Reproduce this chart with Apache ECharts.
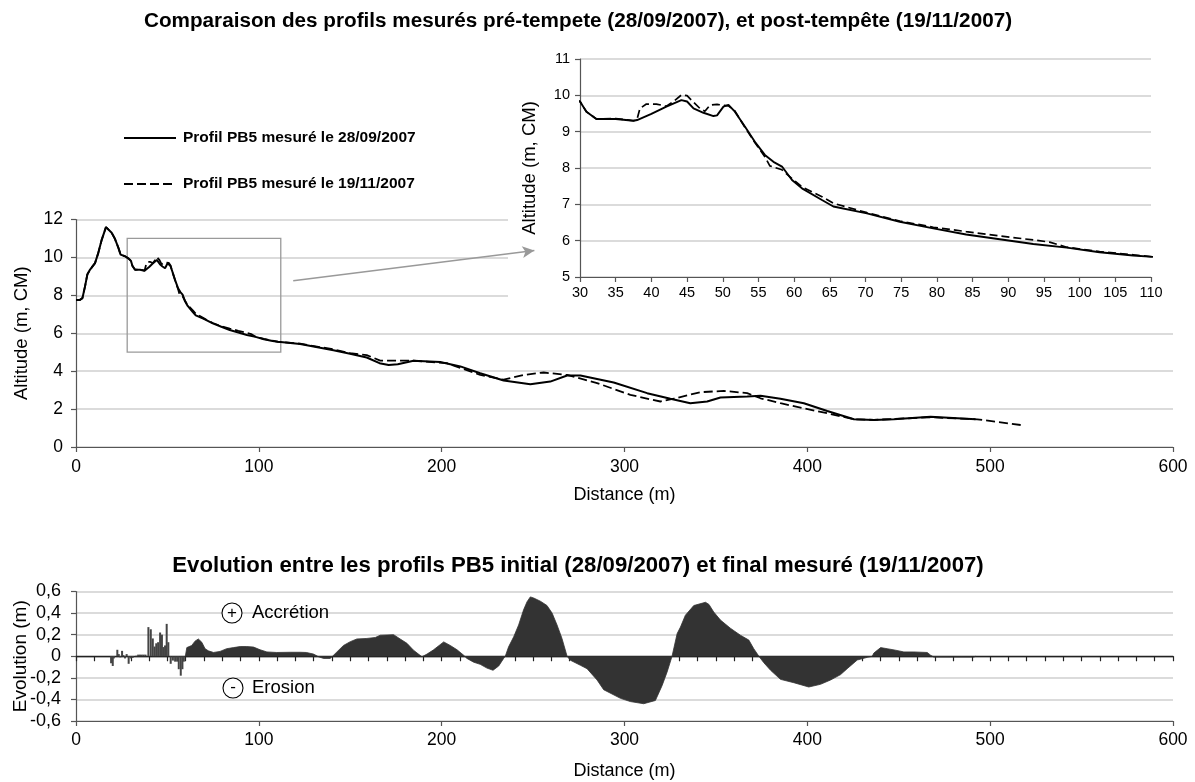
<!DOCTYPE html>
<html><head><meta charset="utf-8">
<script src="https://cdn.jsdelivr.net/npm/echarts@6/dist/echarts.min.js"></script>
<style>html,body{margin:0;padding:0;background:#fff}#c{width:1195px;height:782px}</style>
</head><body><div id="c"></div>
<script>
// ---------- DATA ----------
const title1 = 'Comparaison des profils mesurés pré-tempete (28/09/2007), et post-tempête (19/11/2007)';
const title2 = 'Evolution entre les profils PB5 initial (28/09/2007) et final mesuré (19/11/2007)';
const name1 = 'Profil PB5 mesuré le 28/09/2007';
const name2 = 'Profil PB5 mesuré le 19/11/2007';

// Profile measured 28/09/2007 [distance m, altitude m]
const profil1 = [
[0,7.75],[2,7.75],[3.5,7.85],[5,8.5],[6.2,9.1],[7.7,9.36],[10.4,9.7],[12.2,10.24],[14.1,10.94],[16.4,11.6],[17.2,11.66],
[19.5,11.3],[21.3,10.98],[23.2,10.5],[24.4,10.15],[26.8,10.06],[28.6,9.95],[30,9.83],[30.9,9.55],[32.3,9.35],[35,9.35],
[37.5,9.3],[38,9.32],[40,9.49],[42.1,9.69],[44.2,9.87],[45,9.83],[45.9,9.64],[47.3,9.52],[48.7,9.43],[49.2,9.45],
[50.1,9.69],[50.8,9.74],[51.7,9.55],[53.1,9.14],[54.5,8.72],[55.9,8.36],[57.1,8.17],[58.3,8.04],[59.7,7.67],[61.1,7.44],
[63.9,7.12],[65.5,6.94],[70.2,6.75],[74.8,6.52],[79.5,6.34],[84.1,6.17],[88.8,6.04],[93.5,5.91],[98.2,5.81],[102.8,5.68],
[107.5,5.59],[110.5,5.55],[122.6,5.43],[140.8,5.1],[149.9,4.92],[159,4.72],[166,4.42],[171,4.33],[176,4.36],[184.6,4.55],[199.2,4.48],
[210.2,4.25],[221.1,3.89],[233.9,3.51],[248.5,3.31],[259.4,3.45],[268.6,3.77],[275.9,3.77],[294.1,3.4],[312.4,2.84],
[325.1,2.54],[336,2.31],[345.2,2.4],[352.5,2.61],[367.1,2.66],[374.4,2.7],[385.3,2.54],[398.1,2.31],[410.9,1.9],[425.5,1.46],
[436.4,1.43],[447.3,1.46],[467.4,1.6],[492,1.46]
];
// Profile measured 19/11/2007
const profil2 = [
[0,7.75],[2,7.75],[3.5,7.85],[5,8.5],[6.2,9.1],[7.7,9.36],[10.4,9.7],[12.2,10.24],[14.1,10.94],[16.4,11.6],[17.2,11.66],
[19.5,11.3],[21.3,10.98],[23.2,10.5],[24.4,10.15],[26.8,10.06],[28.6,9.95],[30,9.83],[30.9,9.55],[32.3,9.35],[35,9.36],
[37.5,9.3],[38,9.35],[38.4,9.64],[39.3,9.76],[40.7,9.76],[42.1,9.7],[43.1,9.83],[44.2,10.01],[45,9.99],[45.6,9.87],
[46.8,9.64],[47.5,9.56],[48.2,9.73],[49.2,9.75],[50.8,9.71],[51.7,9.57],[53.1,9.12],[54.5,8.7],[55.9,8.31],[56.6,8.06],
[58.3,7.95],[59.7,7.71],[61.1,7.48],[63.9,7.21],[65.5,7.03],[70.2,6.77],[74.8,6.54],[79.5,6.37],[84.1,6.25],[88.8,6.13],
[93.5,6.02],[95.8,5.96],[98.2,5.82],[102.8,5.7],[107.5,5.61],[110.5,5.55],[122.6,5.45],[140.8,5.15],[149.9,4.95],[159,4.85],
[166.4,4.56],[184.6,4.55],[202.9,4.42],[221.1,3.8],[233.9,3.55],[244.8,3.8],[255.8,3.93],[268.6,3.8],[285,3.37],[303.2,2.75],
[319.6,2.4],[326.9,2.55],[341.5,2.89],[354.3,2.96],[367.1,2.84],[374.4,2.57],[385.3,2.31],[398,2.04],[410.9,1.78],[425.5,1.46],
[436.4,1.43],[467.4,1.57],[493,1.46],[516.7,1.16]
];
// Evolution (m): thin bars in the irregular zone
const evolBars = [
[19.2,-0.065],[20.1,-0.09],[20.7,-0.02],[22.6,0.06],[23.4,0.02],[24.2,-0.01],[25.2,0.05],[25.9,0.01],[26.8,-0.02],[27.7,0.02],
[28.8,-0.07],[29.9,-0.02],[31,-0.015],[33,0.005],[34,0.015],[35,0.015],[36,0.015],[37,0.015],[38,0.015],[39.6,0.27],
[40.9,0.25],[42,0.165],[43,0.09],[43.9,0.12],[44.9,0.13],[46,0.22],[47,0.2],[47.8,0.085],[48.7,0.1],[49.6,0.3],[50.5,0.13],
[51.8,-0.07],[53,-0.04],[54.2,-0.05],[55.3,-0.05],[56.2,-0.12],[57.3,-0.18],[58.2,-0.12],[59,-0.05]
];
// Evolution (m): continuous zone
const evolArea = [
[59.8,0],[60.6,0.08],[63.3,0.1],[65.1,0.14],[66.9,0.16],[67.8,0.165],[68.8,0.13],[70.6,0.07],[72.4,0.05],[75.2,0.035],
[78.8,0.045],[82.4,0.07],[86.1,0.08],[89.8,0.09],[93.4,0.09],[97.1,0.085],[100.7,0.06],[104.4,0.04],[109.8,0.035],[117.1,0.037],
[122.6,0.037],[126,0.035],[129.9,0.02],[132.7,-0.005],[135.4,-0.02],[139,-0.02],[140.3,0],[142.7,0.04],[146.3,0.1],[150,0.135],
[153.6,0.16],[159.1,0.165],[163.7,0.174],[166.4,0.195],[173.7,0.2],[177.3,0.16],[181,0.12],[184.6,0.056],[187.3,0.02],[189.2,-0.005],
[192,0.02],[195.6,0.06],[201.1,0.133],[204.7,0.1],[208.4,0.06],[212,0.01],[213.8,-0.02],[217.5,-0.055],[221.1,-0.075],[224.8,-0.11],
[228.1,-0.13],[231.2,-0.09],[233.9,-0.02],[234.8,0],[236.6,0.087],[239.4,0.18],[242.1,0.29],[244.8,0.43],[246.7,0.505],[248.5,0.55],
[250.3,0.54],[254,0.51],[257.6,0.47],[260.4,0.4],[263.1,0.29],[265.8,0.165],[268.6,0],[270.4,-0.037],[275.9,-0.084],[279.5,-0.115],
[285,-0.22],[288.6,-0.31],[297.8,-0.39],[303.2,-0.42],[310.5,-0.44],[316.9,-0.41],[320.6,-0.27],[323.3,-0.146],[326,0],[328.8,0.21],
[330.6,0.27],[333.3,0.38],[337.9,0.47],[344.3,0.5],[346.2,0.48],[348.8,0.41],[352.5,0.335],[357.9,0.26],[363.4,0.195],[368,0.15],
[370.7,0.07],[373.5,0],[376.2,-0.06],[379.9,-0.13],[385.3,-0.214],[392.6,-0.245],[400.8,-0.285],[407.2,-0.26],[412.7,-0.22],[418.2,-0.17],
[421.8,-0.115],[427.3,-0.035],[432.8,-0.01],[435.5,0],[436.4,0.03],[440.1,0.08],[443.7,0.07],[448.3,0.056],[452.8,0.04],[458.3,0.04],
[465.6,0.035],[467.4,0.01],[469.2,-0.008],[491.1,-0.008],[492,0]
];
// Zoom frame (x0, x1, y0, y1) and arrow (data coords of main chart)
const zoomBox = [28, 112, 5, 11];
const arrowCoords = [[118.8, 8.77], [250.7, 10.36]];

// ---------- CHART ----------
const FF = "'Liberation Sans', Arial, sans-serif";
const chart = echarts.init(document.getElementById('c'), null, {renderer: 'canvas'});
const axisLineStyle = {color: '#555', width: 1.2};
const gridLineStyle = {color: '#cfcfcf', width: 1.5};
const lbl = (size) => ({color: '#000', fontSize: size, fontFamily: FF});
const fmtComma = v => Math.abs(v) < 1e-9 ? '0' : v.toFixed(1).replace('.', ',');

const option = {
  backgroundColor: '#fff',
  animation: false,
  textStyle: {fontFamily: FF},
  title: [
    {text: title1, left: 573, top: 6, textAlign: 'center', textStyle: {fontSize: 20.7, fontWeight: 'bold', color: '#000', fontFamily: FF}},
    {text: title2, left: 573, top: 550, textAlign: 'center', textStyle: {fontSize: 22.2, fontWeight: 'bold', color: '#000', fontFamily: FF}}
  ],
  legend: {
    orient: 'vertical', left: 118, top: 125, itemWidth: 52, itemHeight: 14, itemGap: 30,
    itemStyle: {color: 'rgba(0,0,0,0)', borderColor: 'rgba(0,0,0,0)', borderWidth: 0},
    textStyle: {fontSize: 15.5, fontWeight: 'bold', color: '#000', fontFamily: FF, padding: [0, 0, 0, 2]},
    data: [name1, name2]
  },
  grid: [
    {left: 76, right: 22, top: 219.5, bottom: 335, outerBoundsMode: 'none', containLabel: false},
    {left: 580, right: 44, top: 59, bottom: 505, outerBoundsMode: 'none', containLabel: false},
    {left: 76, right: 22, top: 591.5, bottom: 61, outerBoundsMode: 'none', containLabel: false}
  ],
  xAxis: [
    {gridIndex: 0, type: 'value', min: 0, max: 600, interval: 100,
     name: 'Distance (m)', nameLocation: 'middle', nameGap: 39, nameMoveOverlap: false, nameTextStyle: lbl(18),
     axisLine: {lineStyle: axisLineStyle}, axisTick: {length: 5, lineStyle: axisLineStyle},
     axisLabel: Object.assign(lbl(17.5), {margin: 11}), splitLine: {show: false}},
    {gridIndex: 1, type: 'value', min: 30, max: 110, interval: 5, z: 2,
     axisLine: {lineStyle: axisLineStyle}, axisTick: {length: 5, lineStyle: axisLineStyle},
     axisLabel: Object.assign(lbl(14.5), {margin: 8}), splitLine: {show: false}},
    {gridIndex: 2, type: 'value', min: 0, max: 600, interval: 100,
     name: 'Distance (m)', nameLocation: 'middle', nameGap: 41, nameMoveOverlap: false, nameTextStyle: lbl(18),
     axisLine: {onZero: false, lineStyle: axisLineStyle}, axisTick: {length: 5, lineStyle: axisLineStyle},
     axisLabel: Object.assign(lbl(17.5), {margin: 10}), splitLine: {show: false}},
    {gridIndex: 2, type: 'value', min: 0, max: 600, interval: 10, position: 'top',
     axisLine: {onZero: true, lineStyle: {color: '#222', width: 1.3}},
     axisTick: {inside: true, length: 5, lineStyle: {color: '#222', width: 1.2}},
     axisLabel: {show: false}, splitLine: {show: false}}
  ],
  yAxis: [
    {gridIndex: 0, type: 'value', min: 0, max: 12, interval: 2,
     name: 'Altitude (m, CM)', nameLocation: 'middle', nameGap: 45, nameMoveOverlap: false, nameTextStyle: lbl(18.5),
     axisLine: {show: true, lineStyle: axisLineStyle}, axisTick: {show: true, length: 5, lineStyle: axisLineStyle},
     axisLabel: Object.assign(lbl(17.5), {margin: 13}), splitLine: {lineStyle: gridLineStyle}},
    {gridIndex: 1, type: 'value', min: 5, max: 11, interval: 1, z: 2,
     name: 'Altitude (m, CM)', nameLocation: 'middle', nameGap: 41, nameMoveOverlap: false, nameTextStyle: lbl(18.5),
     axisLine: {show: true, lineStyle: axisLineStyle}, axisTick: {show: true, length: 5, lineStyle: axisLineStyle},
     axisLabel: Object.assign(lbl(14.5), {margin: 10}), splitLine: {lineStyle: gridLineStyle}},
    {gridIndex: 2, type: 'value', min: -0.6, max: 0.6, interval: 0.2,
     name: 'Evolution (m)', nameLocation: 'middle', nameGap: 46, nameMoveOverlap: false, nameTextStyle: lbl(19),
     axisLine: {show: true, lineStyle: axisLineStyle}, axisTick: {show: true, length: 5, lineStyle: axisLineStyle},
     axisLabel: Object.assign(lbl(18), {margin: 15, formatter: fmtComma}), splitLine: {lineStyle: gridLineStyle}}
  ],
  graphic: [
    {type: 'rect', z: 1, shape: {x: 508, y: 42, width: 687, height: 262}, style: {fill: '#fff'}, silent: true},
    {type: 'circle', z: 5, shape: {cx: 232, cy: 613, r: 10}, style: {fill: '#fff', stroke: '#000', lineWidth: 1.1}},
    {type: 'text', z: 6, x: 232, y: 613, style: {text: '+', fontSize: 17, fontFamily: FF, fill: '#000', align: 'center', verticalAlign: 'middle'}},
    {type: 'text', z: 6, x: 252, y: 613, style: {text: 'Accrétion', fontSize: 18.5, fontFamily: FF, fill: '#000', align: 'left', verticalAlign: 'middle'}},
    {type: 'circle', z: 5, shape: {cx: 233, cy: 688, r: 10}, style: {fill: '#fff', stroke: '#000', lineWidth: 1.1}},
    {type: 'text', z: 6, x: 233, y: 687, style: {text: '-', fontSize: 17, fontFamily: FF, fill: '#000', align: 'center', verticalAlign: 'middle'}},
    {type: 'text', z: 6, x: 252, y: 688, style: {text: 'Erosion', fontSize: 18.5, fontFamily: FF, fill: '#000', align: 'left', verticalAlign: 'middle'}}
  ],
  series: [
    {name: name1, type: 'line', xAxisIndex: 0, yAxisIndex: 0, data: profil1, symbol: 'none', z: 3,
     lineStyle: {color: '#000', width: 2}, itemStyle: {color: '#000'},
     markArea: {silent: true, itemStyle: {color: 'rgba(0,0,0,0)', borderColor: '#9a9a9a', borderWidth: 1.3},
       data: [[{coord: [zoomBox[0], zoomBox[2]]}, {coord: [zoomBox[1], zoomBox[3]]}]]},
     markLine: {silent: true, symbol: ['none', 'arrow'], symbolSize: [9, 12], label: {show: false},
       lineStyle: {color: '#999', width: 1.5, type: 'solid'},
       data: [[{coord: arrowCoords[0]}, {coord: arrowCoords[1]}]]}},
    {name: name2, type: 'line', xAxisIndex: 0, yAxisIndex: 0, data: profil2, symbol: 'none', z: 3,
     lineStyle: {color: '#000', width: 1.8, type: [9, 4]}, itemStyle: {color: '#000'}},
    {name: name1, type: 'line', xAxisIndex: 1, yAxisIndex: 1, data: profil1, symbol: 'none', z: 3,
     lineStyle: {color: '#000', width: 1.9}, itemStyle: {color: '#000'}},
    {name: name2, type: 'line', xAxisIndex: 1, yAxisIndex: 1, data: profil2, symbol: 'none', z: 3,
     lineStyle: {color: '#000', width: 1.7, type: [8, 4]}, itemStyle: {color: '#000'}},
    {name: 'evolBars', type: 'bar', xAxisIndex: 2, yAxisIndex: 2, data: evolBars, barWidth: 2,
     itemStyle: {color: '#444'}},
    {name: 'evolArea', type: 'line', xAxisIndex: 2, yAxisIndex: 2, data: evolArea, symbol: 'none',
     lineStyle: {color: '#333', width: 0.8}, areaStyle: {color: '#333', opacity: 1}}
  ]
};
chart.setOption(option);
</script>
</body></html>
